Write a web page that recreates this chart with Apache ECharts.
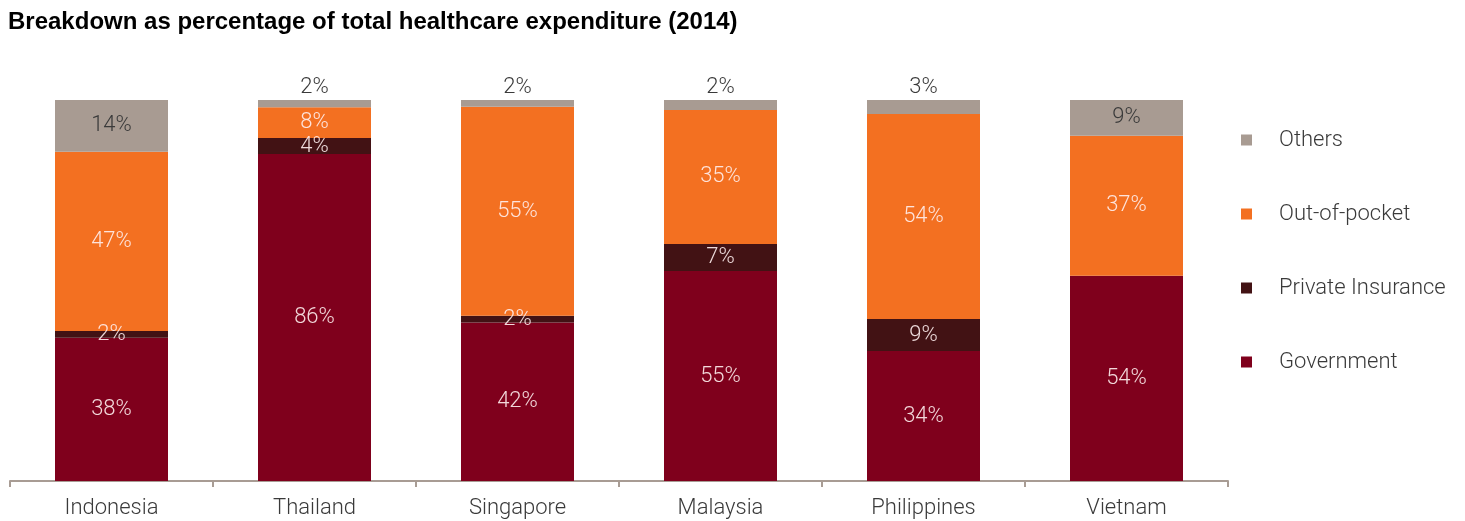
<!DOCTYPE html>
<html>
<head>
<meta charset="utf-8">
<script src="https://cdn.jsdelivr.net/npm/echarts@6/dist/echarts.min.js"></script>
<style>html,body{margin:0;padding:0;background:#fff;}#c{width:1465px;height:521px;}</style>
</head>
<body>
<div id="c"></div>
<script>
var categories = ['Indonesia', 'Thailand', 'Singapore', 'Malaysia', 'Philippines', 'Vietnam'];
// segment heights (percent of bar)
var government = [37.6, 85.8, 41.6, 55.1, 34.1, 53.9];
var privateIns = [1.8, 4.2, 1.8, 7.1, 8.4, 0];
var outOfPocket = [47.0, 8.1, 54.8, 35.2, 53.8, 36.7];
var others = [13.6, 1.9, 1.8, 2.6, 3.7, 9.4];
// printed labels
var governmentLbl = ['38%', '86%', '42%', '55%', '34%', '54%'];
var privateLbl = ['2%', '4%', '2%', '7%', '9%', ''];
var outOfPocketLbl = ['47%', '8%', '55%', '35%', '54%', '37%'];
var othersLbl = ['14%', '2%', '2%', '2%', '3%', '9%'];
var othersInside = [true, false, false, false, false, true];

var FONT = 'Roboto';
var lightText = 'rgba(255,240,240,0.9)';
var darkText = '#3a3a3a';

function mk(lbls) {
  return function (p) { return lbls[p.dataIndex]; };
}

var chart = echarts.init(document.getElementById('c'));
chart.setOption({
  animation: false,
  title: {
    text: 'Breakdown as percentage of total healthcare expenditure (2014)',
    left: 8, top: 10, padding: 0,
    textStyle: { fontFamily: 'Liberation Sans', fontWeight: 'bold', fontSize: 24, color: '#000' }
  },
  legend: {
    orient: 'vertical',
    left: 1241, top: 128, padding: 0,
    icon: 'rect', itemWidth: 11, itemHeight: 11, itemGap: 50,
    data: ['Others', 'Out-of-pocket', 'Private Insurance', 'Government'],
    textStyle: { fontFamily: FONT, fontWeight: 300, fontSize: 22, color: darkText, padding: [0, 0, 0, 22], lineHeight: 24 }
  },
  grid: { left: 10, right: 237, top: 100, bottom: 40 },
  xAxis: {
    type: 'category',
    data: categories,
    axisLine: { lineStyle: { color: '#a89c94', width: 2 } },
    axisTick: { show: true, length: 6, lineStyle: { color: '#a89c94', width: 2 } },
    axisLabel: { fontFamily: FONT, fontWeight: 300, fontSize: 22, color: darkText, margin: 16 }
  },
  yAxis: { type: 'value', min: 0, max: 100, show: false, splitLine: { show: false } },
  series: [
    {
      name: 'Government', type: 'bar', stack: 'a', barWidth: 113,
      itemStyle: { color: '#7f001c' },
      data: government,
      label: { show: true, position: 'inside', formatter: mk(governmentLbl), fontFamily: FONT, fontWeight: 300, fontSize: 22, color: lightText }
    },
    {
      name: 'Private Insurance', type: 'bar', stack: 'a', barWidth: 113,
      itemStyle: { color: '#421214' },
      data: privateIns,
      label: { show: true, position: 'inside', formatter: mk(privateLbl), fontFamily: FONT, fontWeight: 300, fontSize: 22, color: lightText }
    },
    {
      name: 'Out-of-pocket', type: 'bar', stack: 'a', barWidth: 113,
      itemStyle: { color: '#f37021' },
      data: outOfPocket,
      label: { show: true, position: 'inside', formatter: mk(outOfPocketLbl), fontFamily: FONT, fontWeight: 300, fontSize: 22, color: lightText }
    },
    {
      name: 'Others', type: 'bar', stack: 'a', barWidth: 113,
      itemStyle: { color: '#a89b92' },
      data: others.map(function (v, i) {
        return { value: v, label: { position: othersInside[i] ? 'inside' : 'top', distance: 2 } };
      }),
      label: { show: true, formatter: mk(othersLbl), fontFamily: FONT, fontWeight: 300, fontSize: 22, color: darkText }
    }
  ]
});
</script>
</body>
</html>
